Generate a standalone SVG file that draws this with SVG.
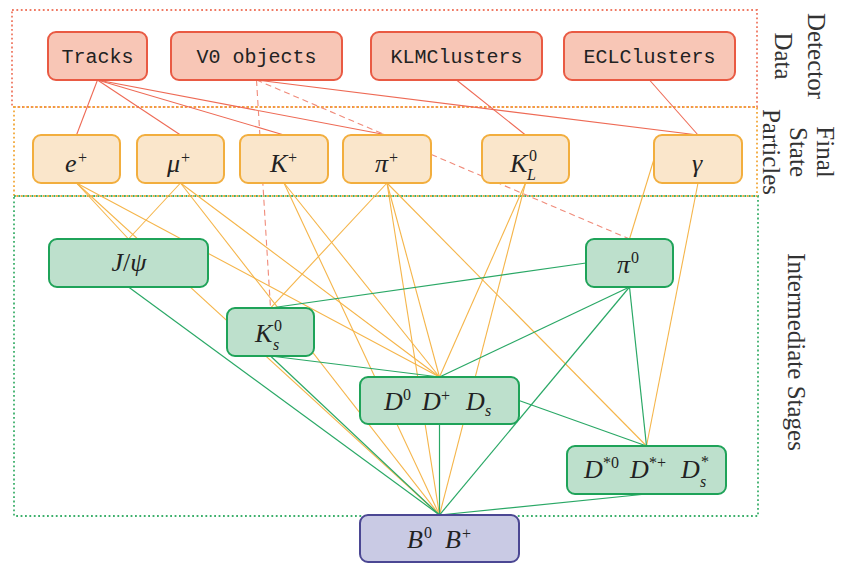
<svg xmlns="http://www.w3.org/2000/svg" width="842" height="563" viewBox="0 0 842 563">
<style>
.fr{fill:none;stroke:#ef7a64;stroke-width:1.8;stroke-dasharray:1.8 2.6}
.fo{fill:none;stroke:#f2a83a;stroke-width:1.8;stroke-dasharray:1.8 2.6}
.fg{fill:none;stroke:#3cb06c;stroke-width:1.8;stroke-dasharray:1.8 2.6}
.er{stroke:#ee6a55;stroke-width:1.1;fill:none}
.ed{stroke:#f08b7a;stroke-width:1.1;fill:none;stroke-dasharray:6 4}
.eo{stroke:#f5b54a;stroke-width:1.1;fill:none}
.eg{stroke:#2aa866;stroke-width:1.2;fill:none}
.nr{fill:#f8c6b6;stroke:#e95a43;stroke-width:2}
.no{fill:#fae6cb;stroke:#f2ae3e;stroke-width:2}
.ng{fill:#bde0cc;stroke:#1fa359;stroke-width:2}
.nb{fill:#c9cae4;stroke:#4b4793;stroke-width:2}
.tt{font-family:"Liberation Mono",monospace;font-size:20px;fill:#222;text-anchor:middle}
.m{font-family:"Liberation Serif",serif;font-style:italic;font-size:26px;fill:#222}
.sup{font-style:normal;font-size:16px}
.sub{font-style:italic;font-size:16px}
.up{font-style:normal}
.lab{font-family:"Liberation Serif",serif;font-size:25px;fill:#333;text-anchor:middle}
</style>
<g id="frames">
<rect class="fr" x="12" y="10" width="745" height="97"/>
<rect class="fo" x="14" y="107" width="743" height="89"/>
<rect class="fg" x="14" y="196" width="744" height="320"/>
</g>
<g id="connectors">
<line class="er" x1="97.5" y1="80" x2="76.5" y2="135"/>
<line class="er" x1="97.5" y1="80" x2="180.5" y2="135"/>
<line class="er" x1="97.5" y1="80" x2="284" y2="135"/>
<line class="er" x1="97.5" y1="80" x2="387" y2="135"/>
<line class="er" x1="256.5" y1="80" x2="698" y2="135"/>
<line class="er" x1="456.5" y1="80" x2="525.5" y2="135"/>
<line class="er" x1="649.5" y1="80" x2="698" y2="135"/>
<line class="ed" x1="256.5" y1="80" x2="270.5" y2="308"/>
<line class="ed" x1="256.5" y1="80" x2="629.5" y2="239"/>
<line class="eo" x1="76.5" y1="183" x2="128.5" y2="239"/>
<line class="eo" x1="76.5" y1="183" x2="439.5" y2="377"/>
<line class="eo" x1="76.5" y1="183" x2="439.5" y2="515"/>
<line class="eo" x1="180.5" y1="183" x2="128.5" y2="239"/>
<line class="eo" x1="180.5" y1="183" x2="439.5" y2="377"/>
<line class="eo" x1="180.5" y1="183" x2="439.5" y2="515"/>
<line class="eo" x1="284" y1="183" x2="439.5" y2="377"/>
<line class="eo" x1="284" y1="183" x2="439.5" y2="515"/>
<line class="eo" x1="387" y1="183" x2="270.5" y2="308"/>
<line class="eo" x1="387" y1="183" x2="439.5" y2="377"/>
<line class="eo" x1="387" y1="183" x2="439.5" y2="515"/>
<line class="eo" x1="387" y1="183" x2="646.5" y2="446"/>
<line class="eo" x1="525.5" y1="183" x2="439.5" y2="377"/>
<line class="eo" x1="525.5" y1="183" x2="439.5" y2="515"/>
<line class="eo" x1="654" y1="159" x2="629.5" y2="239"/>
<line class="eo" x1="698" y1="183" x2="646.5" y2="446"/>
<line class="eg" x1="128.5" y1="287" x2="439.5" y2="515"/>
<line class="eg" x1="270.5" y1="308" x2="586" y2="263"/>
<line class="eg" x1="270.5" y1="356" x2="439.5" y2="377"/>
<line class="eg" x1="270.5" y1="356" x2="439.5" y2="515"/>
<line class="eg" x1="629.5" y1="287" x2="439.5" y2="377"/>
<line class="eg" x1="629.5" y1="287" x2="439.5" y2="515"/>
<line class="eg" x1="629.5" y1="287" x2="646.5" y2="446"/>
<line class="eg" x1="519" y1="400.5" x2="646.5" y2="446"/>
<line class="eg" x1="439.5" y1="424" x2="439.5" y2="515"/>
<line class="eg" x1="646.5" y1="494" x2="439.5" y2="515"/>
</g>
<g id="tracks"><rect class="nr" x="48" y="32" width="99" height="48" rx="8"/><text class="tt" x="97.5" y="63">Tracks</text></g>
<g id="v0"><rect class="nr" x="171" y="32" width="171" height="48" rx="8"/><text class="tt" x="256.5" y="63">V0 objects</text></g>
<g id="klm"><rect class="nr" x="371" y="32" width="171" height="48" rx="8"/><text class="tt" x="456.5" y="63">KLMClusters</text></g>
<g id="ecl"><rect class="nr" x="564" y="32" width="171" height="48" rx="8"/><text class="tt" x="649.5" y="63">ECLClusters</text></g>
<g id="eplus"><rect class="no" x="33" y="135" width="87" height="48" rx="8"/><text class="m"><tspan x="65" y="172">e</tspan><tspan class="sup" x="78" y="163">+</tspan></text></g>
<g id="muplus"><rect class="no" x="137" y="135" width="87" height="48" rx="8"/><text class="m"><tspan x="167" y="172">μ</tspan><tspan class="sup" x="181" y="163">+</tspan></text></g>
<g id="kplus"><rect class="no" x="240" y="135" width="88" height="48" rx="8"/><text class="m"><tspan x="270" y="172">K</tspan><tspan class="sup" x="288" y="163">+</tspan></text></g>
<g id="piplus"><rect class="no" x="343" y="135" width="88" height="48" rx="8"/><text class="m"><tspan x="375" y="172">π</tspan><tspan class="sup" x="389" y="163">+</tspan></text></g>
<g id="kl0"><rect class="no" x="482" y="135" width="87" height="48" rx="8"/><text class="m"><tspan x="510" y="172">K</tspan><tspan class="sup" x="529" y="161">0</tspan></text><text class="m"><tspan class="sub" x="527" y="180">L</tspan></text></g>
<g id="gamma"><rect class="no" x="654" y="135" width="88" height="48" rx="8"/><text class="m"><tspan x="692" y="172">γ</tspan></text></g>
<g id="jpsi"><rect class="ng" x="49" y="239" width="159" height="48" rx="8"/><text class="m" x="129" y="271" text-anchor="middle">J<tspan class="up">/</tspan>ψ</text></g>
<g id="ks0"><rect class="ng" x="227" y="308" width="87" height="48" rx="8"/><text class="m"><tspan x="255" y="342">K</tspan><tspan class="sup" x="274" y="331">0</tspan></text><text class="m"><tspan class="sub" x="273" y="350">s</tspan></text></g>
<g id="pi0"><rect class="ng" x="586" y="239" width="87" height="48" rx="8"/><text class="m"><tspan x="617" y="273">π</tspan><tspan class="sup" x="631" y="263">0</tspan></text></g>
<g id="dmesons"><rect class="ng" x="360" y="377" width="159" height="47" rx="8"/><text class="m"><tspan x="384" y="410">D</tspan><tspan class="sup" x="403" y="400">0</tspan><tspan x="422" y="410">D</tspan><tspan class="sup" x="441" y="401">+</tspan><tspan x="466" y="410">D</tspan><tspan class="sub" x="485" y="416">s</tspan></text></g>
<g id="dstar"><rect class="ng" x="567" y="446" width="159" height="48" rx="8"/><text class="m"><tspan x="584" y="478">D</tspan><tspan class="sup" x="603" y="468">*0</tspan><tspan x="630" y="478">D</tspan><tspan class="sup" x="649" y="468">*+</tspan><tspan x="681" y="478">D</tspan><tspan class="sup" x="701" y="467">*</tspan></text><text class="m"><tspan class="sub" x="700" y="487">s</tspan></text></g>
<g id="bmesons"><rect class="nb" x="360" y="515" width="159" height="47" rx="8"/><text class="m"><tspan x="407" y="548">B</tspan><tspan class="sup" x="424" y="538">0</tspan><tspan x="445" y="548">B</tspan><tspan class="sup" x="462" y="539">+</tspan></text></g>
<g id="labels">
<text class="lab" transform="translate(808,56) rotate(90)">Detector</text>
<text class="lab" transform="translate(775,56) rotate(90)">Data</text>
<text class="lab" transform="translate(817,152) rotate(90)">Final</text>
<text class="lab" transform="translate(790,152) rotate(90)">State</text>
<text class="lab" transform="translate(763,152) rotate(90)">Particles</text>
<text class="lab" transform="translate(788,352) rotate(90)">Intermediate Stages</text>
</g>
</svg>
